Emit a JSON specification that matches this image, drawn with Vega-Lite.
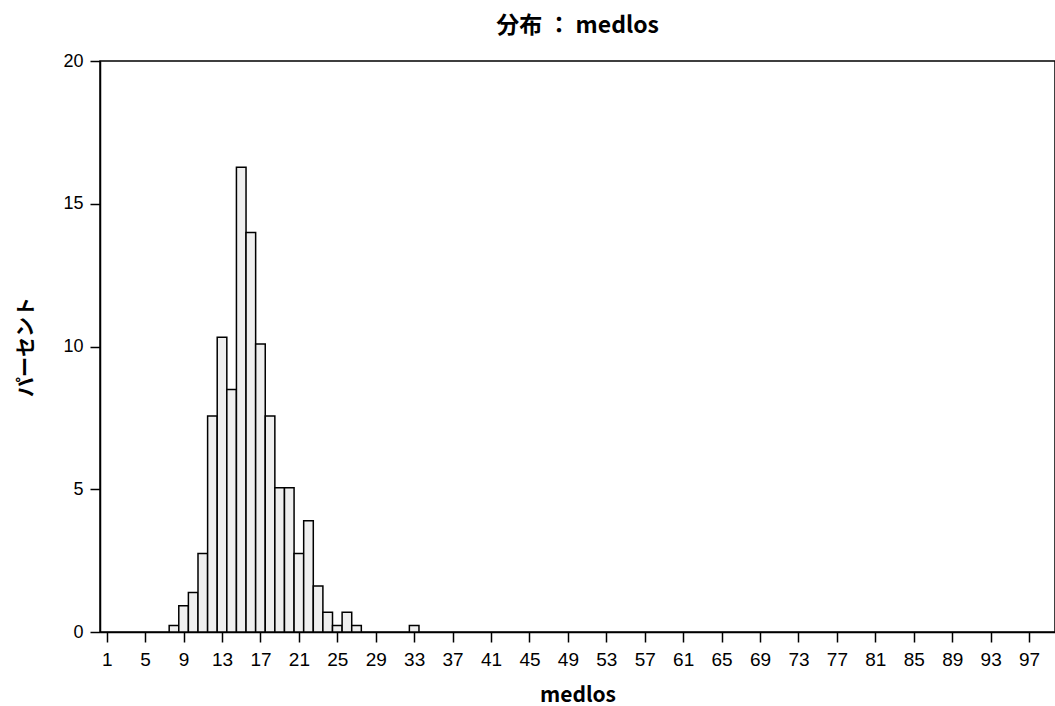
{
  "$schema": "https://vega.github.io/schema/vega-lite/v6.json",
  "width": 955,
  "height": 571,
  "autosize": {"type": "none"},
  "padding": {"left": 100, "top": 61, "right": 0, "bottom": 74},
  "background": "white",
  "title": {
    "text": "分布 ： medlos",
    "font": "Noto Sans CJK JP",
    "fontSize": 23,
    "fontWeight": "bold",
    "color": "black",
    "anchor": "middle",
    "offset": 14
  },
  "config": {
    "view": {"stroke": "black", "strokeWidth": 1.5},
    "axis": {
      "grid": false,
      "domainColor": "black",
      "domainWidth": 1.5,
      "tickColor": "black",
      "tickWidth": 1.5,
      "tickSize": 10,
      "labelFont": "Liberation Sans",
      "labelFontSize": 18,
      "labelColor": "black",
      "titleFont": "Noto Sans CJK JP",
      "titleFontSize": 21,
      "titleFontWeight": "bold",
      "titleColor": "black"
    }
  },
  "data": {
    "values": [
      {"medlos": 8, "bin_start": 7.5, "bin_end": 8.5, "percent": 0.23},
      {"medlos": 9, "bin_start": 8.5, "bin_end": 9.5, "percent": 0.92},
      {"medlos": 10, "bin_start": 9.5, "bin_end": 10.5, "percent": 1.38},
      {"medlos": 11, "bin_start": 10.5, "bin_end": 11.5, "percent": 2.75},
      {"medlos": 12, "bin_start": 11.5, "bin_end": 12.5, "percent": 7.57},
      {"medlos": 13, "bin_start": 12.5, "bin_end": 13.5, "percent": 10.32},
      {"medlos": 14, "bin_start": 13.5, "bin_end": 14.5, "percent": 8.49},
      {"medlos": 15, "bin_start": 14.5, "bin_end": 15.5, "percent": 16.28},
      {"medlos": 16, "bin_start": 15.5, "bin_end": 16.5, "percent": 13.99},
      {"medlos": 17, "bin_start": 16.5, "bin_end": 17.5, "percent": 10.09},
      {"medlos": 18, "bin_start": 17.5, "bin_end": 18.5, "percent": 7.57},
      {"medlos": 19, "bin_start": 18.5, "bin_end": 19.5, "percent": 5.05},
      {"medlos": 20, "bin_start": 19.5, "bin_end": 20.5, "percent": 5.05},
      {"medlos": 21, "bin_start": 20.5, "bin_end": 21.5, "percent": 2.75},
      {"medlos": 22, "bin_start": 21.5, "bin_end": 22.5, "percent": 3.9},
      {"medlos": 23, "bin_start": 22.5, "bin_end": 23.5, "percent": 1.61},
      {"medlos": 24, "bin_start": 23.5, "bin_end": 24.5, "percent": 0.69},
      {"medlos": 25, "bin_start": 24.5, "bin_end": 25.5, "percent": 0.23},
      {"medlos": 26, "bin_start": 25.5, "bin_end": 26.5, "percent": 0.69},
      {"medlos": 27, "bin_start": 26.5, "bin_end": 27.5, "percent": 0.23},
      {"medlos": 33, "bin_start": 32.5, "bin_end": 33.5, "percent": 0.23}
    ]
  },
  "mark": {"type": "rect", "fill": "#efefef", "stroke": "black", "strokeWidth": 1.5},
  "encoding": {
    "x": {
      "field": "bin_start",
      "type": "quantitative",
      "scale": {"domain": [0.3, 99.7], "nice": false, "zero": false},
      "axis": {
        "title": "medlos",
        "values": [1, 5, 9, 13, 17, 21, 25, 29, 33, 37, 41, 45, 49, 53, 57, 61, 65, 69, 73, 77, 81, 85, 89, 93, 97],
        "labelFontSize": 19,
        "labelPadding": 8,
        "titlePadding": 15
      }
    },
    "x2": {"field": "bin_end"},
    "y": {
      "field": "percent",
      "type": "quantitative",
      "scale": {"domain": [0, 20], "nice": false},
      "axis": {
        "title": "パーセント",
        "titleFontSize": 20,
        "values": [0, 5, 10, 15, 20],
        "labelPadding": 7,
        "titlePadding": 26
      }
    },
    "y2": {"datum": 0}
  }
}
